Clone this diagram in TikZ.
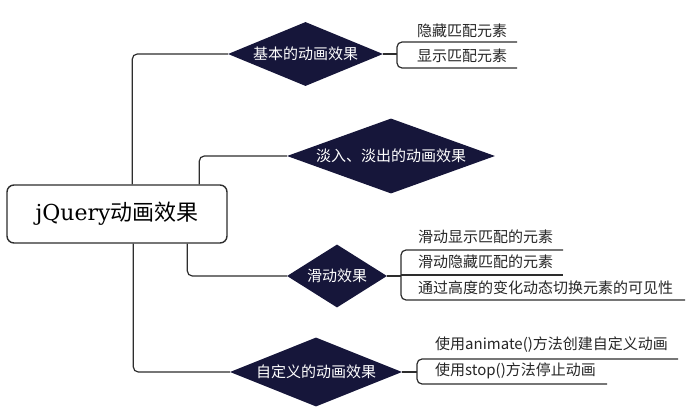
\documentclass[tikz,border=0pt]{standalone}
\usepackage{fontspec}
\setmainfont{Noto Sans CJK SC}
\newfontfamily\rootlatin{DejaVu Serif}
\usetikzlibrary{shapes.geometric}
\definecolor{navy}{RGB}{22,22,58}
\definecolor{linegray}{RGB}{45,45,45}
\begin{document}
\begin{tikzpicture}[x=1pt,y=-1pt,
  conn/.style={draw=linegray,line width=1.2pt,rounded corners=5pt},
  rootbox/.style={draw=linegray,line width=1.4pt,rounded corners=7pt,fill=white,
    minimum width=220pt,minimum height=58pt,inner sep=0pt,
    font=\fontsize{22}{26}\selectfont},
  topic/.style={diamond,fill=navy,inner sep=0pt,text=white,
    font=\fontsize{15}{18}\selectfont},
  leaf/.style={anchor=west,inner sep=0pt,text=black!85,
    font=\fontsize{15}{18}\selectfont}]
\useasboundingbox (0,0) rectangle (694,415);

% central topic
\node[rootbox] (root) at (117,214) {{\rootlatin jQuery}动画效果};

% main branches
\node[topic,minimum width=155pt,minimum height=64pt,aspect=2.4] (d1) at (305.5,54) {基本的动画效果};
\node[topic,minimum width=208pt,minimum height=75pt,aspect=3] (d2) at (391,156) {淡入、淡出的动画效果};
\node[topic,minimum width=100pt,minimum height=63pt,aspect=1.6] (d3) at (337,276) {滑动效果};
\node[topic,minimum width=172pt,minimum height=69pt,aspect=2.5] (d4) at (316,372) {自定义的动画效果};

% connectors from the central topic
\draw[conn] ([xshift=126pt]root.north west) |- (d1.west);
\draw[conn] ([xshift=193pt]root.north west) |- (d2.west);
\draw[conn] ([xshift=181pt]root.south west) |- (d3.west);
\draw[conn] ([xshift=127pt]root.south west) |- (d4.west);

% branch 1
\coordinate (b1) at (397,54);
\coordinate (b1t) at (517,42);
\coordinate (b1b) at (517,68);
\draw[conn] (d1.east) -- (b1);
\draw[conn] (b1t) -| (b1) |- (b1b);
\node[leaf] (l11) at (417,31) {隐藏匹配元素};
\node[leaf] (l12) at (417,56) {显示匹配元素};

% branch 3
\coordinate (b3) at (401,275);
\coordinate (b3t) at (563,250);
\coordinate (b3m) at (563,275);
\coordinate (b3b) at (685,300);
\draw[conn] (d3.east) -- (d3.east -| b3);
\draw[conn] (b3t) -| (b3) |- (b3b);
\draw[conn] (b3) -- (b3m);
\node[leaf] (l31) at (418,237) {滑动显示匹配的元素};
\node[leaf] (l32) at (418,262) {滑动隐藏匹配的元素};
\node[leaf] (l33) at (418,288) {通过高度的变化动态切换元素的可见性};

% branch 4
\coordinate (b4) at (417,372);
\coordinate (b4t) at (678,359);
\coordinate (b4b) at (607,384);
\draw[conn] (d4.east) -- (b4);
\draw[conn] (b4t) -| (b4) |- (b4b);
\node[leaf] (l41) at (435,345) {使用animate()方法创建自定义动画};
\node[leaf] (l42) at (435,371) {使用stop()方法停止动画};
\end{tikzpicture}
\end{document}
